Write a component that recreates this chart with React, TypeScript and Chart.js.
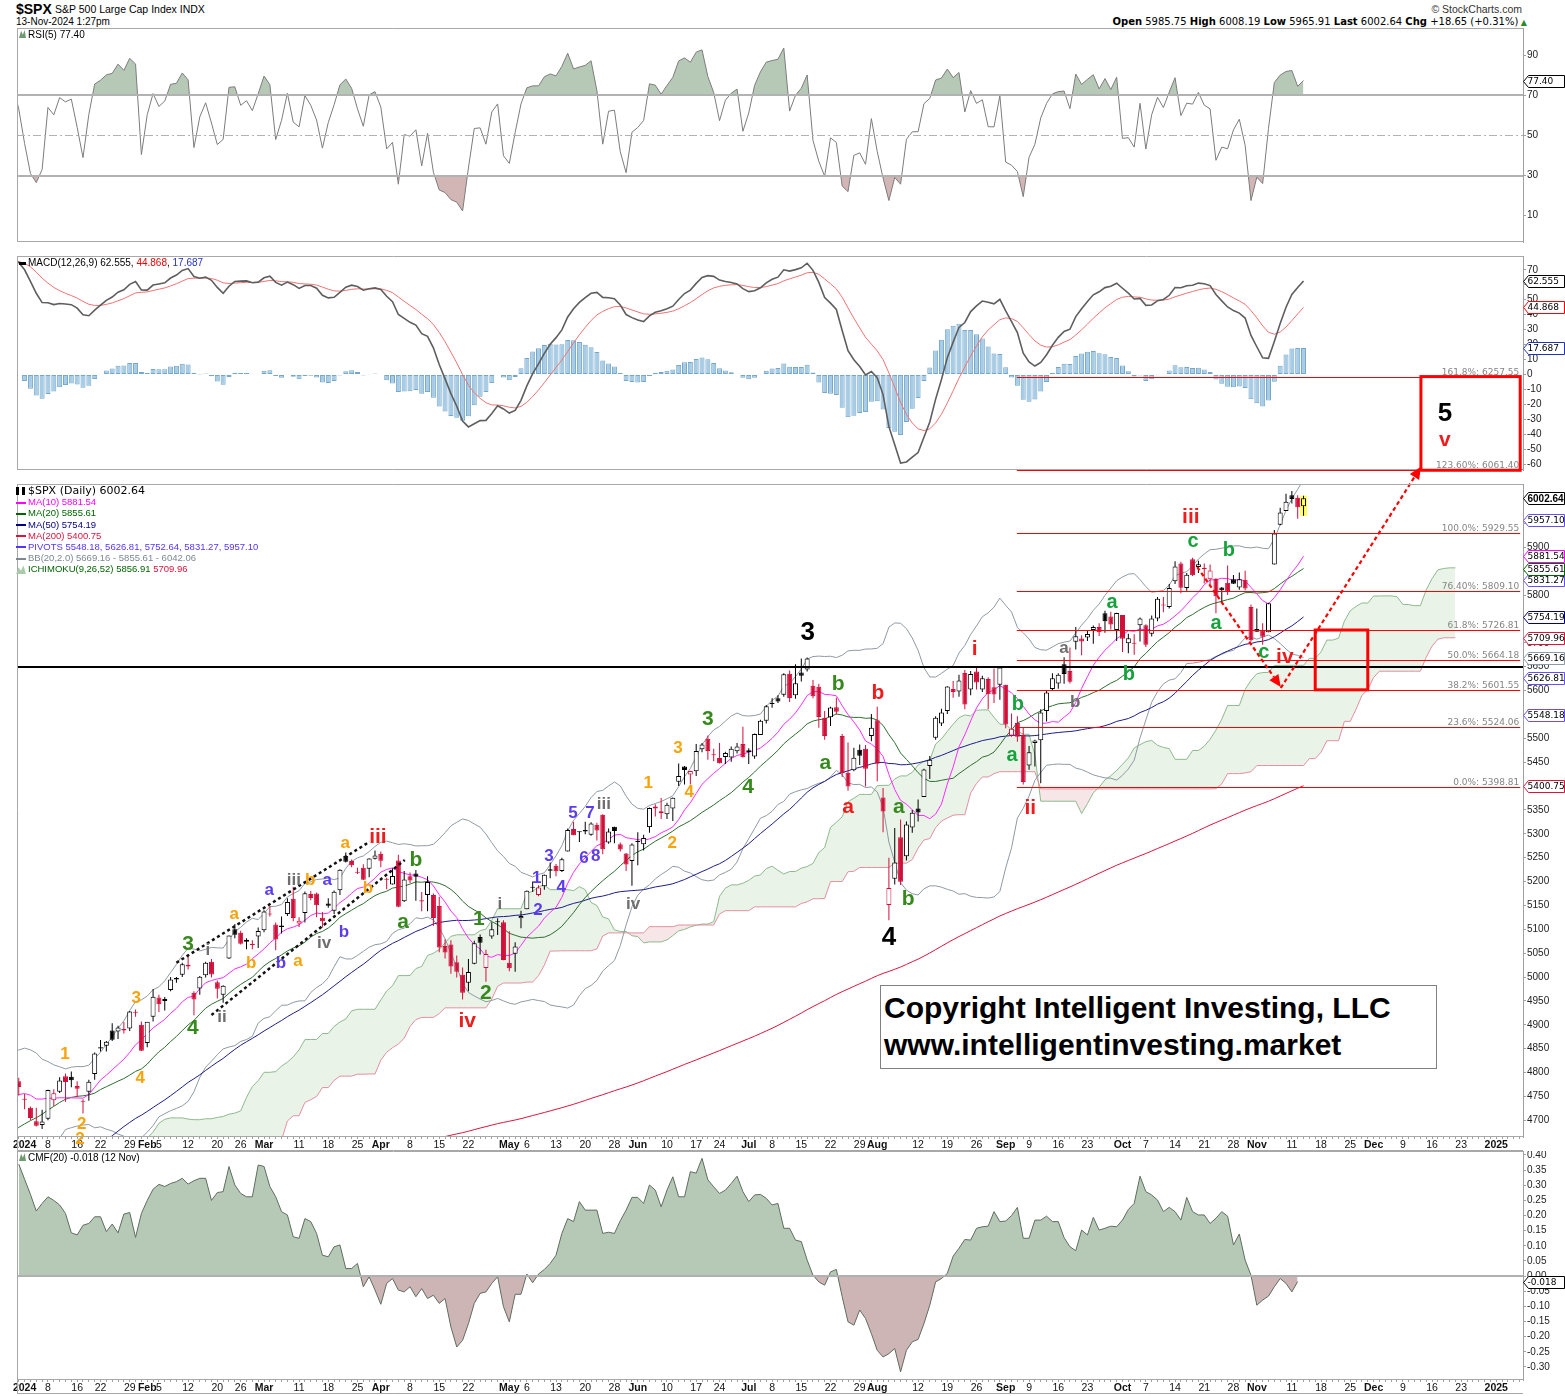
import React, { useEffect, useRef } from 'react';
import { Chart, registerables } from 'chart.js';

Chart.register(...registerables);

const FONT = '"Liberation Sans", Arial, Helvetica, sans-serif';
const FONT_V = '"DejaVu Sans", Verdana, sans-serif';
const RED = '#d0103a';

// ================= DATA =================
// closes before the visible window (Jun 26 2023 .. Dec 28 2023), used only to seed indicators
const PRE_CLOSE = [
  4328.82, 4378.41, 4376.86, 4396.44, 4450.38,
  4455.59, 4446.82, 4411.59, 4398.95, 4409.53, 4439.26, 4472.16, 4510.04, 4505.42, 4522.79, 4554.98, 4565.72, 4534.87, 4536.34, 4554.64, 4567.46, 4566.75, 4537.41, 4582.23, 4588.96,
  4576.73, 4513.39, 4501.89, 4478.03, 4518.44, 4499.38, 4467.71, 4468.83, 4464.05, 4489.72, 4437.86, 4404.33, 4370.36, 4369.71, 4399.77, 4387.55, 4436.01, 4376.31, 4405.71, 4433.31, 4497.63, 4514.87, 4507.66,
  4515.77, 4496.83, 4465.48, 4451.14, 4457.49, 4487.46, 4461.9, 4467.44, 4505.1, 4450.32, 4453.53, 4443.95, 4402.2, 4330.0, 4320.06, 4337.44, 4273.53, 4274.51, 4299.7, 4288.05,
  4288.39, 4229.45, 4263.75, 4258.19, 4308.5, 4335.66, 4358.24, 4376.95, 4349.61, 4327.78, 4373.63, 4373.2, 4314.6, 4278.0, 4224.16, 4217.04, 4247.68, 4186.77, 4137.23, 4117.37, 4166.82, 4193.8,
  4237.86, 4317.78, 4358.34, 4365.98, 4378.38, 4382.78, 4347.35, 4415.24, 4411.55, 4495.7, 4502.88, 4508.24, 4514.02, 4547.38, 4538.19, 4556.62, 4559.34, 4550.43, 4554.89, 4550.58, 4567.8,
  4594.63, 4569.78, 4567.18, 4549.34, 4585.59, 4604.37, 4622.44, 4643.7, 4707.09, 4719.55, 4719.19, 4740.56, 4768.37, 4698.35, 4746.75, 4754.63, 4774.75, 4781.58, 4783.35,
];
// highs / lows Oct 2 2023 .. Dec 28 2023 (Ichimoku seed)
const PRE_HIGH = [
  4300, 4281, 4268, 4268, 4324, 4336, 4385, 4378, 4385, 4366, 4383, 4393, 4364, 4340, 4276, 4255, 4255, 4232, 4184, 4156, 4177, 4195,
  4245, 4319, 4374, 4372, 4388, 4391, 4393, 4418, 4414, 4504, 4511, 4512, 4521, 4558, 4542, 4568, 4560, 4557, 4568, 4587, 4570,
  4598, 4575, 4579, 4590, 4590, 4609, 4623, 4643, 4709, 4738, 4725, 4748, 4768, 4778, 4749, 4772, 4784, 4785, 4793,
];
const PRE_LOW = [
  4260, 4216, 4220, 4225, 4219, 4283, 4339, 4345, 4325, 4311, 4336, 4337, 4306, 4268, 4223, 4189, 4217, 4181, 4128, 4103, 4132, 4154,
  4198, 4268, 4342, 4347, 4365, 4371, 4344, 4353, 4388, 4465, 4491, 4487, 4500, 4511, 4525, 4545, 4553, 4545, 4541, 4547, 4537,
  4560, 4545, 4556, 4546, 4565, 4574, 4593, 4608, 4633, 4694, 4704, 4726, 4743, 4697, 4717, 4736, 4758, 4768, 4781,
];

// daily OHLC, Dec 29 2023 .. Nov 13 2024
const OPEN = [
  4782,
  4745, 4726, 4698, 4690, 4703, 4742, 4760, 4792, 4791, 4772, 4739, 4760, 4797, 4853, 4856, 4888, 4886, 4888, 4892, 4925, 4900,
  4862, 4917, 4957, 4950, 4973, 4995, 5005, 5026, 4967, 4976, 5004, 5032, 4989, 4963, 5039, 5100, 5093, 5074, 5067, 5085,
  5098, 5131, 5110, 5108, 5132, 5164, 5112, 5134, 5174, 5175, 5124, 5154, 5139, 5182, 5254, 5243, 5220, 5229, 5227, 5248,
  5258, 5204, 5194, 5244, 5159, 5211, 5217, 5158, 5172, 5172, 5149, 5065, 5068, 5031, 5005, 4988, 5028, 5084, 5019, 5085, 5115, 5115,
  5030, 5049, 5123, 5142, 5187, 5172, 5190, 5226, 5233, 5222, 5263, 5310, 5304, 5305, 5298, 5319, 5340, 5282, 5315, 5278, 5259, 5243,
  5283, 5278, 5314, 5357, 5343, 5341, 5353, 5409, 5441, 5424, 5431, 5477, 5499, 5466, 5459, 5461, 5460, 5473, 5488,
  5471, 5462, 5507, 5537, 5572, 5584, 5591, 5635, 5590, 5638, 5644, 5610, 5608, 5543, 5544, 5565, 5505, 5428, 5433, 5476, 5478, 5505,
  5538, 5376, 5151, 5206, 5293, 5253, 5313, 5353, 5377, 5442, 5501, 5531, 5557, 5603, 5598, 5637, 5602, 5640, 5602, 5624, 5607, 5612,
  5612, 5506, 5532, 5507, 5443, 5490, 5496, 5557, 5603, 5615, 5655, 5641, 5702, 5709, 5711, 5727, 5733, 5762, 5755, 5727,
  5758, 5699, 5698, 5737, 5737, 5719, 5751, 5778, 5775, 5829, 5866, 5815, 5875, 5859, 5857, 5833, 5834, 5816, 5826, 5833, 5816, 5832, 5775,
  5723, 5725, 5722, 5864, 5947, 5976, 6009, 6004, 5985.75,
];
const HIGH = [
  4789,
  4755, 4729, 4726, 4722, 4764, 4765, 4790, 4798, 4802, 4782, 4744, 4785, 4842, 4868, 4866, 4903, 4898, 4906, 4929, 4932, 4907,
  4906, 4975, 4963, 4958, 5000, 5000, 5030, 5048, 4970, 5002, 5032, 5038, 4993, 4983, 5087, 5111, 5097, 5081, 5077, 5104,
  5140, 5149, 5114, 5127, 5165, 5189, 5125, 5179, 5180, 5177, 5136, 5165, 5181, 5226, 5261, 5246, 5229, 5236, 5249, 5265,
  5263, 5208, 5228, 5256, 5222, 5219, 5224, 5178, 5211, 5175, 5168, 5079, 5077, 5045, 5020, 5038, 5076, 5089, 5057, 5115, 5123, 5119,
  5096, 5073, 5139, 5181, 5200, 5192, 5215, 5240, 5237, 5250, 5311, 5325, 5305, 5325, 5324, 5323, 5341, 5311, 5315, 5282, 5260, 5280,
  5303, 5298, 5355, 5362, 5375, 5365, 5376, 5447, 5442, 5432, 5488, 5490, 5506, 5478, 5490, 5472, 5483, 5490, 5524,
  5479, 5510, 5539, 5570, 5584, 5590, 5636, 5642, 5655, 5667, 5669, 5622, 5614, 5557, 5566, 5585, 5509, 5491, 5480, 5487, 5486, 5551,
  5566, 5396, 5250, 5312, 5330, 5326, 5350, 5372, 5436, 5463, 5546, 5562, 5609, 5620, 5633, 5643, 5641, 5651, 5631, 5628, 5646, 5651,
  5612, 5552, 5546, 5522, 5484, 5497, 5561, 5600, 5636, 5636, 5670, 5690, 5733, 5716, 5725, 5736, 5741, 5767, 5765, 5763,
  5758, 5719, 5718, 5753, 5739, 5757, 5796, 5796, 5823, 5871, 5870, 5846, 5878, 5872, 5866, 5864, 5835, 5817, 5862, 5842, 5847, 5851, 5780,
  5772, 5741, 5784, 5936, 5983, 6012, 6018, 6009, 6008.19,
];
const LOW = [
  4752,
  4723, 4700, 4687, 4682, 4700, 4730, 4757, 4739, 4769, 4748, 4714, 4741, 4785, 4844, 4844, 4866, 4870, 4882, 4887, 4917, 4845,
  4853, 4907, 4927, 4930, 4970, 4988, 5000, 5016, 4920, 4963, 4999, 4999, 4955, 4946, 5038, 5081, 5068, 5058, 5058, 5061,
  5094, 5127, 5056, 5091, 5128, 5117, 5105, 5114, 5161, 5125, 5104, 5145, 5132, 5172, 5240, 5230, 5216, 5203, 5209, 5246,
  5230, 5184, 5194, 5146, 5157, 5197, 5160, 5138, 5138, 5107, 5052, 5039, 5007, 4999, 4953, 4970, 5027, 5047, 4990, 5080, 5088, 5035,
  5012, 5011, 5102, 5142, 5178, 5169, 5183, 5207, 5211, 5220, 5263, 5297, 5283, 5299, 5296, 5286, 5257, 5279, 5280, 5263, 5222, 5191,
  5234, 5265, 5302, 5336, 5331, 5331, 5327, 5400, 5403, 5403, 5421, 5471, 5455, 5452, 5447, 5446, 5451, 5468, 5460,
  5446, 5457, 5507, 5531, 5564, 5574, 5587, 5576, 5583, 5619, 5640, 5584, 5522, 5497, 5526, 5550, 5419, 5390, 5431, 5444, 5399, 5494,
  5410, 5303, 5119, 5194, 5193, 5244, 5302, 5326, 5377, 5415, 5497, 5526, 5551, 5585, 5587, 5561, 5590, 5602, 5597, 5561, 5574, 5581,
  5521, 5503, 5493, 5403, 5434, 5441, 5406, 5535, 5600, 5604, 5614, 5615, 5686, 5674, 5704, 5698, 5714, 5721, 5728, 5704,
  5681, 5678, 5675, 5703, 5691, 5713, 5745, 5764, 5772, 5823, 5804, 5809, 5840, 5846, 5824, 5822, 5762, 5784, 5800, 5823, 5811, 5810, 5703,
  5723, 5696, 5722, 5864, 5946, 5976, 5992, 5960, 5965.91,
];
const CLOSE = [
  4769.83,
  4742.83, 4704.81, 4688.68, 4697.24, 4763.54, 4756.5, 4783.45, 4780.24, 4783.83, 4765.98, 4739.21, 4780.94, 4839.81, 4850.43, 4864.6, 4868.55, 4894.16, 4890.97, 4927.93, 4924.97, 4845.65,
  4906.19, 4958.61, 4942.81, 4954.23, 4995.06, 4997.91, 5026.61, 5021.84, 4953.17, 5000.62, 5029.73, 5005.57, 4975.51, 4981.8, 5087.03, 5088.8, 5069.53, 5078.18, 5069.76, 5096.27,
  5137.08, 5130.95, 5078.65, 5104.76, 5157.36, 5123.69, 5117.94, 5175.27, 5165.31, 5150.48, 5117.09, 5149.42, 5178.51, 5224.62, 5241.53, 5234.18, 5218.19, 5203.58, 5248.49, 5254.35,
  5243.77, 5205.81, 5211.49, 5147.21, 5204.34, 5202.39, 5209.91, 5160.64, 5199.06, 5123.41, 5061.82, 5051.41, 5022.21, 5011.12, 4967.23, 5010.6, 5070.55, 5071.63, 5048.42, 5099.96, 5116.17, 5035.69,
  5018.39, 5064.2, 5127.79, 5180.74, 5187.7, 5187.67, 5214.08, 5222.68, 5221.42, 5246.68, 5308.15, 5297.1, 5303.27, 5308.13, 5321.41, 5307.01, 5267.84, 5304.72, 5306.04, 5266.95, 5235.48, 5277.51,
  5283.4, 5291.34, 5354.03, 5352.96, 5346.99, 5360.79, 5375.32, 5421.03, 5433.74, 5431.6, 5473.23, 5487.03, 5473.17, 5464.62, 5447.87, 5469.3, 5477.9, 5482.87, 5460.48,
  5475.09, 5509.01, 5537.02, 5567.19, 5572.85, 5576.98, 5633.91, 5584.54, 5615.35, 5631.22, 5667.2, 5588.27, 5544.59, 5505.0, 5564.41, 5555.74, 5427.13, 5399.22, 5459.1, 5463.54, 5436.44, 5522.3,
  5446.68, 5346.56, 5186.33, 5240.03, 5199.5, 5319.31, 5344.16, 5344.39, 5434.43, 5455.21, 5543.22, 5554.25, 5608.25, 5597.12, 5620.85, 5570.64, 5634.61, 5616.84, 5625.8, 5592.18, 5591.96, 5648.4,
  5528.93, 5520.07, 5503.41, 5408.42, 5471.05, 5495.52, 5554.13, 5595.76, 5626.02, 5633.09, 5634.58, 5618.26, 5713.64, 5702.55, 5718.57, 5732.93, 5722.26, 5745.37, 5738.17, 5762.48,
  5708.75, 5709.54, 5699.94, 5751.07, 5695.94, 5751.13, 5792.04, 5780.05, 5815.03, 5859.85, 5815.26, 5842.47, 5841.47, 5864.67, 5853.98, 5851.2, 5797.42, 5809.86, 5808.12, 5823.52, 5832.92, 5813.67, 5705.45,
  5728.8, 5712.69, 5782.76, 5929.04, 5973.1, 5995.54, 6001.35, 5983.99, 6002.64,
];

// Chaikin Money Flow (20), Dec 29 2023 .. Nov 12 2024
const CMF = [
  0.37, 0.32, 0.27, 0.215, 0.24, 0.262, 0.25, 0.235, 0.207, 0.143,
  0.136, 0.168, 0.174, 0.196, 0.196, 0.147, 0.172, 0.143, 0.205, 0.21,
  0.128, 0.207, 0.25, 0.287, 0.303, 0.296, 0.306, 0.312, 0.323, 0.304,
  0.315, 0.323, 0.323, 0.25, 0.276, 0.279, 0.362, 0.301, 0.273, 0.262,
  0.262, 0.367, 0.362, 0.296, 0.262, 0.213, 0.202, 0.13, 0.125, 0.19,
  0.18, 0.141, 0.069, 0.064, 0.097, 0.103, 0.025, 0.025, 0.042, -0.035,
  -0.002, -0.046, -0.093, -0.024, -0.008, -0.046, -0.052, -0.035, -0.068, -0.041,
  -0.074, -0.063, -0.09, -0.074, -0.168, -0.234, -0.212, -0.157, -0.09, -0.057,
  -0.052, -0.024, -0.002, -0.101, -0.151, -0.06, -0.06, 0.007, -0.022, 0.007,
  0.022, 0.042, 0.069, 0.141, 0.19, 0.18, 0.246, 0.218, 0.218, 0.218,
  0.141, 0.145, 0.141, 0.183, 0.218, 0.26, 0.26, 0.24, 0.301, 0.284,
  0.229, 0.284, 0.328, 0.262, 0.262, 0.345, 0.34, 0.389, 0.318, 0.295,
  0.273, 0.284, 0.306, 0.33, 0.279, 0.246, 0.268, 0.27, 0.257, 0.235,
  0.24, 0.158, 0.158, 0.119, 0.114, 0.053, 0.003, -0.019, -0.03, 0.014,
  0.022, -0.068, -0.151, -0.162, -0.112, -0.14, -0.19, -0.245, -0.267, -0.256,
  -0.239, -0.316, -0.245, -0.217, -0.209, -0.157, -0.096, -0.019, -0.008, 0.009,
  0.066, 0.092, 0.121, 0.119, 0.158, 0.163, 0.165, 0.213, 0.18, 0.182,
  0.2, 0.227, 0.125, 0.125, 0.185, 0.185, 0.198, 0.18, 0.18, 0.127,
  0.097, 0.084, 0.152, 0.136, 0.194, 0.152, 0.158, 0.165, 0.163, 0.185,
  0.22, 0.24, 0.33, 0.279, 0.268, 0.251, 0.213, 0.227, 0.213, 0.185,
  0.26, 0.213, 0.202, 0.202, 0.174, 0.191, 0.213, 0.198, 0.103, 0.139,
  0.053, 0.003, -0.096, -0.079, -0.066, -0.035, -0.008, -0.024, -0.052, -0.018,
];

const HOLIDAYS = ['2024-01-01', '2024-01-15', '2024-02-19', '2024-03-29', '2024-05-27', '2024-06-19', '2024-07-04', '2024-09-02', '2024-11-28', '2024-12-25', '2025-01-01'];
const X_TICKS: [string, string][] = [
  ['2024-01-02', '2024'], ['2024-01-08', '8'], ['2024-01-16', '16'], ['2024-01-22', '22'], ['2024-01-29', '29'],
  ['2024-02-01', 'Feb'], ['2024-02-05', '5'], ['2024-02-12', '12'], ['2024-02-20', '20'], ['2024-02-26', '26'],
  ['2024-03-01', 'Mar'], ['2024-03-11', '11'], ['2024-03-18', '18'], ['2024-03-25', '25'],
  ['2024-04-01', 'Apr'], ['2024-04-08', '8'], ['2024-04-15', '15'], ['2024-04-22', '22'],
  ['2024-05-01', 'May'], ['2024-05-06', '6'], ['2024-05-13', '13'], ['2024-05-20', '20'], ['2024-05-28', '28'],
  ['2024-06-03', 'Jun'], ['2024-06-10', '10'], ['2024-06-17', '17'], ['2024-06-24', '24'],
  ['2024-07-01', 'Jul'], ['2024-07-08', '8'], ['2024-07-15', '15'], ['2024-07-22', '22'], ['2024-07-29', '29'],
  ['2024-08-01', 'Aug'], ['2024-08-12', '12'], ['2024-08-19', '19'], ['2024-08-26', '26'],
  ['2024-09-03', 'Sep'], ['2024-09-09', '9'], ['2024-09-16', '16'], ['2024-09-23', '23'],
  ['2024-10-01', 'Oct'], ['2024-10-07', '7'], ['2024-10-14', '14'], ['2024-10-21', '21'], ['2024-10-28', '28'],
  ['2024-11-01', 'Nov'], ['2024-11-11', '11'], ['2024-11-18', '18'], ['2024-11-25', '25'],
  ['2024-12-02', 'Dec'], ['2024-12-09', '9'], ['2024-12-16', '16'], ['2024-12-23', '23'], ['2025-01-02', '2025'],
];
const PRICE_TICKS = [4700, 4750, 4800, 4850, 4900, 4950, 5000, 5050, 5100, 5150, 5200, 5250, 5300, 5350, 5400, 5450, 5500, 5550, 5600, 5650, 5700, 5750, 5800, 5850, 5900, 5950];
const RSI_TICKS = [10, 30, 50, 70, 90];
const MACD_TICKS = [-60, -50, -40, -30, -20, -10, 0, 10, 20, 30, 40, 50, 60, 70];
const CMF_TICKS = [-0.3, -0.25, -0.2, -0.15, -0.1, -0.05, 0, 0.05, 0.1, 0.15, 0.2, 0.25, 0.3, 0.35, 0.4];

// Fibonacci levels and their captions
const FIB_LEVELS = [6257.55, 6061.4, 5929.55, 5809.1, 5726.81, 5664.18, 5601.55, 5524.06, 5398.81];
const FIB_TEXT = ['161.8%: 6257.55', '123.60%: 6061.40', '100.0%: 5929.55', '76.40%: 5809.10', '61.8%: 5726.81', '50.0%: 5664.18', '38.2%: 5601.55', '23.6%: 5524.06', '0.0%: 5398.81'];
const KEY_LEVEL = 5650;

// value tags on the right axis
const PRICE_TAGS: [number, string, string, boolean][] = [
  [5400.75, '5400.75', '#dc143c', false], [5548.18, '5548.18', '#6a4cff', false], [5626.81, '5626.81', '#6a4cff', false],
  [5669.16, '5669.16', '#8a9aa8', false], [5709.96, '5709.96', '#dc143c', false], [5754.19, '5754.19', '#000080', false],
  [5831.27, '5831.27', '#6a4cff', false], [5855.61, '5855.61', '#006400', false], [5881.54, '5881.54', '#ff00ff', false],
  [5957.1, '5957.10', '#6a4cff', false], [6002.64, '6002.64', '#000000', true],
];
const RSI_TAGS: [number, string, string, boolean][] = [[77.4, '77.40', '#000000', false]];
const MACD_TAGS: [number, string, string, boolean][] = [[62.555, '62.555', '#000000', false], [44.868, '44.868', '#ff0000', false], [17.687, '17.687', '#2233bb', false]];
const CMF_TAGS: [number, string, string, boolean][] = [[-0.018, '-0.018', '#000000', false]];

// Elliott-wave annotations: text, trading-day index, price, style
const WAVE_LABELS: [string, number, number, string][] = [
  ['3', 134.1, 5720.5, 'K'], ['4', 148.0, 5081.8, 'K'], ['5', 243.2, 6179.2, 'K'], ['v', 243.2, 6124.7, 'R'],
  ['iii', 60.5, 5293.3, 'R'], ['iv', 75.8, 4908, 'R'], ['b', 146.1, 5594.9, 'R'], ['a', 141.0, 5356.1, 'R'],
  ['i', 162.7, 5687, 'R'], ['ii', 172.2, 5354, 'R'], ['iii', 199.7, 5963.5, 'R'], ['iv', 215.8, 5670.3, 'R'],
  ['3', 28.0, 5069.2, 'G'], ['4', 28.8, 4893.3, 'G'], ['a', 64.8, 5115.3, 'G'], ['b', 67.0, 5245.1, 'G'],
  ['1', 77.8, 5121.6, 'G'], ['2', 79.0, 4966.6, 'G'], ['3', 117.0, 5540.4, 'G'], ['4', 123.9, 5398, 'G'],
  ['b', 139.3, 5613.7, 'G'], ['a', 137.1, 5448.3, 'G'], ['a', 149.7, 5356.1, 'G'], ['b', 151.3, 5163.5, 'G'],
  ['a', 169.1, 5465, 'g'], ['b', 170.1, 5571.8, 'g'], ['b', 189.1, 5634.7, 'g'], ['a', 186.2, 5785.4, 'g'],
  ['c', 200.1, 5913.2, 'g'], ['b', 206.2, 5894.3, 'g'], ['a', 204.0, 5741.5, 'g'], ['c', 212.2, 5680.7, 'g'],
  ['iii', 46.1, 5203.2, 'Y'], ['i', 31.4, 5056.7, 'Y'], ['iv', 51.3, 5071.4, 'Y'], ['ii', 33.8, 4916.3, 'Y'],
  ['i', 81.4, 5153, 'Y'], ['iii', 99.2, 5362.4, 'Y'], ['iv', 104.2, 5153, 'Y'], ['a', 178.0, 5689.1, 'Y'], ['b', 179.9, 5576, 'Y'],
  ['1', 6.9, 4838.9, 'O'], ['2', 9.8, 4692.3, 'O'], ['2', 9.5, 4660.8, 'O'], ['4', 19.8, 4788.6, 'O'], ['3', 19.1, 4956.1, 'O'],
  ['a', 35.9, 5132.1, 'O'], ['b', 38.8, 5029.5, 'O'], ['a', 46.8, 5033.7, 'O'], ['b', 48.9, 5203.2, 'O'],
  ['a', 54.9, 5280.7, 'O'], ['b', 58.8, 5186.5, 'O'], ['1', 106.8, 5406.4, 'O'], ['2', 110.9, 5280.7, 'O'],
  ['3', 111.9, 5479.7, 'O'], ['4', 113.8, 5387.5, 'O'],
  ['a', 41.9, 5182.3, 'P'], ['a', 51.8, 5203.2, 'P'], ['b', 43.9, 5029.5, 'P'], ['b', 54.7, 5094.3, 'P'],
  ['1', 87.7, 5207.4, 'P'], ['2', 87.9, 5140.4, 'P'], ['3', 89.8, 5253.5, 'P'], ['4', 91.9, 5188.6, 'P'],
  ['5', 93.9, 5343.6, 'P'], ['6', 95.8, 5249.3, 'P'], ['7', 96.8, 5343.6, 'P'], ['8', 97.8, 5253.5, 'P'],
];
const CHANNELS: [number, number, number, number][] = [[26.0, 5030, 59.1, 5283.5], [32.0, 4920.5, 65.1, 5245]];
const ARROWS: [number, number, number, number][] = [[200.8, 5858.7, 215.1, 5607.4], [215.1, 5605.3, 239.1, 6068.5]];
const BOXES: [number, number, number, number][] = [[221.0, 5726.81, 230.0, 5601.55], [239.1, 6257.55, 256.1, 6061.4]];
const FIB_SPAN: [number, number] = [169.9, 256.1];

const LABEL_STYLE: Record<string, { color: string; size: number }> = {
  K: { color: '#000000', size: 26 },
  R: { color: '#ee1c1c', size: 21 },
  G: { color: '#37891e', size: 21 },
  g: { color: '#16a33c', size: 20 },
  O: { color: '#f7a30a', size: 17 },
  P: { color: '#5b3cf0', size: 17 },
  Y: { color: '#6e6e6e', size: 17 },
};

// ================= DERIVED =================
const X_MIN = -1.301;
const X_MAX = 256.58;

function buildCalendar(): string[] {
  const out: string[] = [];
  let t = Date.UTC(2023, 11, 29);
  const end = Date.UTC(2025, 0, 20);
  while (t <= end) {
    const d = new Date(t);
    const wd = d.getUTCDay();
    const s = d.toISOString().slice(0, 10);
    if (wd !== 0 && wd !== 6 && HOLIDAYS.indexOf(s) < 0) out.push(s);
    t += 86400000;
  }
  return out;
}
const CAL = buildCalendar();
const dateX = (s: string) => CAL.indexOf(s) - 1;
const DAY_TICKS = CAL.map((_, i) => i - 1).filter((v) => v <= X_MAX);
const LABEL_AT = new Map<number, string>(X_TICKS.map(([d, l]) => [dateX(d), l]));
const isBoldLabel = (v: number) => {
  const l = LABEL_AT.get(v);
  return !!l && !/^\d{1,2}$/.test(l);
};

const ALL_CLOSE = PRE_CLOSE.concat(CLOSE);
const OFF_C = PRE_CLOSE.length + 1;
const ALL_HIGH = PRE_HIGH.concat(HIGH);
const ALL_LOW = PRE_LOW.concat(LOW);
const OFF_H = PRE_HIGH.length + 1;

function sma(a: number[], n: number) {
  const out: (number | null)[] = a.map(() => null);
  let s = 0;
  for (let i = 0; i < a.length; i++) {
    s += a[i];
    if (i >= n) s -= a[i - n];
    if (i >= n - 1) out[i] = s / n;
  }
  return out;
}
function sdev(a: number[], n: number, m: (number | null)[]) {
  return a.map((_, i) => {
    const mu = m[i];
    if (mu == null) return null;
    let s = 0;
    for (let k = i - n + 1; k <= i; k++) s += (a[k] - mu) * (a[k] - mu);
    return Math.sqrt(s / n);
  });
}
function ema(a: (number | null)[], n: number) {
  const out: (number | null)[] = a.map(() => null);
  const k = 2 / (n + 1);
  let prev: number | null = null;
  const buf: number[] = [];
  for (let i = 0; i < a.length; i++) {
    const v = a[i];
    if (v == null) continue;
    if (prev == null) {
      buf.push(v);
      if (buf.length === n) {
        prev = buf.reduce((p, c) => p + c, 0) / n;
        out[i] = prev;
      }
    } else {
      prev = v * k + prev * (1 - k);
      out[i] = prev;
    }
  }
  return out;
}
function rsi(a: number[], n: number) {
  const out: (number | null)[] = a.map(() => null);
  let ag = 0, al = 0;
  for (let i = 1; i < a.length; i++) {
    const ch = a[i] - a[i - 1];
    const g = Math.max(ch, 0), l = Math.max(-ch, 0);
    if (i <= n) {
      ag += g; al += l;
      if (i === n) { ag /= n; al /= n; out[i] = al === 0 ? 100 : 100 - 100 / (1 + ag / al); }
    } else {
      ag = (ag * (n - 1) + g) / n;
      al = (al * (n - 1) + l) / n;
      out[i] = al === 0 ? 100 : 100 - 100 / (1 + ag / al);
    }
  }
  return out;
}
const toPts = (arr: (number | null)[], off: number, shift = 0) =>
  arr.map((v, j) => ({ x: j - off + shift, y: v })).filter((p) => p.y != null && p.x >= -2) as { x: number; y: number }[];

const MA10 = toPts(sma(ALL_CLOSE, 10), OFF_C);
const M20 = sma(ALL_CLOSE, 20);
const MA20 = toPts(M20, OFF_C);
const MA50 = toPts(sma(ALL_CLOSE, 50), OFF_C);
const MA200 = toPts(sma(ALL_CLOSE, 200), OFF_C);
const SD20 = sdev(ALL_CLOSE, 20, M20);
const BB_UP = toPts(M20.map((m, i) => (m == null ? null : m + 2 * (SD20[i] as number))), OFF_C);
const BB_LO = toPts(M20.map((m, i) => (m == null ? null : m - 2 * (SD20[i] as number))), OFF_C);

function midHL(n: number, h: number) {
  let hh = -Infinity, ll = Infinity;
  for (let k = Math.max(0, h - n + 1); k <= h; k++) {
    if (ALL_HIGH[k] > hh) hh = ALL_HIGH[k];
    if (ALL_LOW[k] < ll) ll = ALL_LOW[k];
  }
  return (hh + ll) / 2;
}
const SPAN_A_RAW = ALL_HIGH.map((_, h) => (midHL(9, h) + midHL(26, h)) / 2);
const SPAN_B_RAW = ALL_HIGH.map((_, h) => midHL(52, h));
const SPAN_A = toPts(SPAN_A_RAW, OFF_H, 26);
const SPAN_B = toPts(SPAN_B_RAW, OFF_H, 26);

const RSI5 = toPts(rsi(ALL_CLOSE, 5), OFF_C);
const E12 = ema(ALL_CLOSE, 12);
const E26 = ema(ALL_CLOSE, 26);
const MACD_RAW = E12.map((v, i) => (v == null || E26[i] == null ? null : v - (E26[i] as number)));
const SIG_RAW = ema(MACD_RAW, 9);
const HIST_RAW = MACD_RAW.map((v, i) => (v == null || SIG_RAW[i] == null ? null : v - (SIG_RAW[i] as number)));
const MACD_L = toPts(MACD_RAW, OFF_C);
const SIG_L = toPts(SIG_RAW, OFF_C);
const HIST = toPts(HIST_RAW, OFF_C).filter((p) => p.x >= -1);
const CMF_PTS = CMF.map((v, k) => ({ x: k - 1, y: v }));

// ================= PLUGINS =================
const framePlugin = {
  id: 'frame',
  afterDraw(chart: any) {
    const { ctx, chartArea: a } = chart;
    ctx.save();
    ctx.strokeStyle = '#a8a8a8';
    ctx.lineWidth = 1;
    ctx.beginPath();
    ctx.moveTo(a.left + 0.5, a.top);
    ctx.lineTo(a.left + 0.5, a.bottom);
    ctx.moveTo(a.left, a.top + 0.5);
    ctx.lineTo(a.right, a.top + 0.5);
    ctx.moveTo(a.left, Math.round(a.bottom) - 0.5);
    ctx.lineTo(a.right, Math.round(a.bottom) - 0.5);
    if (chart.options.scales.x.display) {
      const yb = Math.round(a.bottom) + 13.5;
      ctx.moveTo(a.left, yb);
      ctx.lineTo(a.right, yb);
      ctx.moveTo(a.left + 0.5, a.bottom);
      ctx.lineTo(a.left + 0.5, yb);
    }
    ctx.stroke();
    ctx.restore();
  },
};

function tagPlugin(tags: [number, string, string, boolean][]) {
  return {
    id: 'tags',
    afterDraw(chart: any) {
      const { ctx, chartArea: a, scales } = chart;
      const y = scales.y;
      ctx.save();
      tags.forEach(([v, label, color, bold]) => {
        const yy = Math.round(y.getPixelForValue(v)) + 0.5;
        const x0 = a.right + 0.5;
        ctx.beginPath();
        ctx.moveTo(x0, yy);
        ctx.lineTo(x0 + 5, yy - 6);
        ctx.lineTo(x0 + 41, yy - 6);
        ctx.lineTo(x0 + 41, yy + 6);
        ctx.lineTo(x0 + 5, yy + 6);
        ctx.closePath();
        ctx.fillStyle = '#ffffff';
        ctx.fill();
        ctx.strokeStyle = color;
        ctx.lineWidth = 1;
        ctx.stroke();
        ctx.fillStyle = '#000000';
        ctx.font = bold ? `bold 10px ${FONT}` : `9px ${FONT_V}`;
        ctx.textAlign = 'left';
        ctx.textBaseline = 'middle';
        ctx.fillText(label, x0 + 4, yy + 0.5);
      });
      ctx.restore();
    },
  };
}

function drawArrow(ctx: any, x1: number, y1: number, x2: number, y2: number) {
  const ang = Math.atan2(y2 - y1, x2 - x1);
  const head = 12;
  const bx = x2 - head * Math.cos(ang);
  const by = y2 - head * Math.sin(ang);
  ctx.setLineDash([4, 3]);
  ctx.lineWidth = 2.2;
  ctx.beginPath();
  ctx.moveTo(x1, y1);
  ctx.lineTo(bx, by);
  ctx.stroke();
  ctx.setLineDash([]);
  ctx.beginPath();
  ctx.moveTo(x2, y2);
  ctx.lineTo(bx + 5.5 * Math.sin(ang), by - 5.5 * Math.cos(ang));
  ctx.lineTo(bx - 5.5 * Math.sin(ang), by + 5.5 * Math.cos(ang));
  ctx.closePath();
  ctx.fill();
}

const annotPlugin = {
  id: 'annot',
  beforeDatasetsDraw(chart: any) {
    const { ctx, scales } = chart;
    const k = CLOSE.length - 1;
    const px = scales.x.getPixelForValue(k - 1);
    const y1 = scales.y.getPixelForValue(HIGH[k]);
    const y2 = scales.y.getPixelForValue(LOW[k]);
    ctx.save();
    ctx.fillStyle = '#ffff66';
    ctx.fillRect(px - 3.5, y1, 7, y2 - y1);
    ctx.restore();
  },
  afterDatasetsDraw(chart: any) {
    const { ctx, chartArea: a, scales } = chart;
    const X = (v: number) => scales.x.getPixelForValue(v);
    const Y = (v: number) => scales.y.getPixelForValue(v);
    ctx.save();
    // key horizontal level
    ctx.strokeStyle = '#000000';
    ctx.lineWidth = 2;
    ctx.beginPath();
    ctx.moveTo(a.left, Math.round(Y(KEY_LEVEL)));
    ctx.lineTo(a.right, Math.round(Y(KEY_LEVEL)));
    ctx.stroke();
    // fib lines
    FIB_LEVELS.forEach((lv, i) => {
      const yy = Math.round(Y(lv)) + 0.5;
      ctx.strokeStyle = '#ff0000';
      ctx.lineWidth = 1;
      ctx.beginPath();
      ctx.moveTo(X(FIB_SPAN[0]), yy);
      ctx.lineTo(X(FIB_SPAN[1]), yy);
      ctx.stroke();
      ctx.fillStyle = '#858585';
      ctx.font = `9px ${FONT_V}`;
      ctx.textAlign = 'right';
      ctx.textBaseline = 'alphabetic';
      ctx.fillText(FIB_TEXT[i], X(FIB_SPAN[1]) - 1, yy - 3);
    });
    // target boxes
    ctx.strokeStyle = '#ff0000';
    ctx.lineWidth = 3;
    BOXES.forEach(([x1, p1, x2, p2]) => {
      ctx.strokeRect(X(x1), Y(p1), X(x2) - X(x1), Y(p2) - Y(p1));
    });
    // channel lines
    ctx.strokeStyle = '#111111';
    ctx.lineWidth = 2.5;
    ctx.setLineDash([3, 3]);
    CHANNELS.forEach(([x1, p1, x2, p2]) => {
      ctx.beginPath();
      ctx.moveTo(X(x1), Y(p1));
      ctx.lineTo(X(x2), Y(p2));
      ctx.stroke();
    });
    ctx.setLineDash([]);
    // arrows
    ctx.strokeStyle = '#ff0000';
    ctx.fillStyle = '#ff0000';
    ARROWS.forEach(([x1, p1, x2, p2]) => drawArrow(ctx, X(x1), Y(p1), X(x2), Y(p2)));
    // labels
    ctx.textAlign = 'center';
    ctx.textBaseline = 'middle';
    WAVE_LABELS.forEach(([t, xi, p, s]) => {
      const st = LABEL_STYLE[s];
      ctx.font = `bold ${st.size}px ${FONT}`;
      ctx.fillStyle = st.color;
      ctx.fillText(t, X(xi), Y(p));
    });
    ctx.restore();
  },
};

const rsiLevels = {
  id: 'rsiLevels',
  afterDatasetsDraw(chart: any) {
    const { ctx, chartArea: a, scales } = chart;
    ctx.save();
    ctx.strokeStyle = '#b2b2b2';
    [70, 30].forEach((v) => {
      const yy = Math.round(scales.y.getPixelForValue(v));
      ctx.lineWidth = 2;
      ctx.beginPath();
      ctx.moveTo(a.left, yy);
      ctx.lineTo(a.right, yy);
      ctx.stroke();
    });
    ctx.lineWidth = 1;
    ctx.setLineDash([8, 3, 2, 3]);
    const y50 = Math.round(scales.y.getPixelForValue(50)) + 0.5;
    ctx.beginPath();
    ctx.moveTo(a.left, y50);
    ctx.lineTo(a.right, y50);
    ctx.stroke();
    ctx.restore();
  },
};

const zeroLine = {
  id: 'zeroLine',
  afterDatasetsDraw(chart: any) {
    const { ctx, chartArea: a, scales } = chart;
    const yy = Math.round(scales.y.getPixelForValue(0));
    ctx.save();
    ctx.strokeStyle = '#b0b0b0';
    ctx.lineWidth = 2;
    ctx.beginPath();
    ctx.moveTo(a.left, yy);
    ctx.lineTo(a.right, yy);
    ctx.stroke();
    ctx.restore();
  },
};

// ================= SCALES =================
function xScale(show: boolean) {
  return {
    type: 'linear',
    min: X_MIN,
    max: X_MAX,
    offset: false,
    display: show,
    afterBuildTicks: (s: any) => {
      s.ticks = DAY_TICKS.map((v) => ({ value: v }));
    },
    afterFit: (s: any) => {
      s.height = 14;
      s.paddingLeft = 0;
      s.paddingRight = 0;
    },
    grid: { drawOnChartArea: false, drawTicks: true, tickLength: 2, color: '#a0a0a0', offset: false },
    border: { display: false },
    ticks: {
      autoSkip: false,
      maxRotation: 0,
      minRotation: 0,
      padding: 0,
      color: '#111111',
      font: (c: any) => ({ family: FONT, size: 10.5, weight: c.tick && isBoldLabel(c.tick.value) ? 'bold' : 'normal' }),
      callback: (v: any) => LABEL_AT.get(Math.round(v)) ?? '',
    },
  };
}
function yScale(min: number, max: number, ticks: number[], fmt: (v: number) => string) {
  return {
    type: 'linear',
    position: 'right',
    min,
    max,
    beginAtZero: false,
    afterBuildTicks: (s: any) => {
      s.ticks = ticks.map((v) => ({ value: v }));
    },
    afterFit: (s: any) => {
      s.width = 42;
      s.paddingTop = 0;
      s.paddingBottom = 0;
    },
    grid: { drawOnChartArea: false, drawTicks: true, tickLength: 3, color: '#a0a0a0' },
    border: { display: true, color: '#a0a0a0' },
    ticks: { color: '#222222', padding: 1, font: { family: FONT, size: 10 }, callback: (v: any) => fmt(Number(v)) },
  };
}
const baseOptions = (padTop: number, padBottom: number, x: any, y: any) => ({
  responsive: false,
  maintainAspectRatio: false,
  animation: false,
  devicePixelRatio: 1,
  events: [],
  layout: { padding: { left: 17, right: 0, top: padTop, bottom: padBottom } },
  plugins: { legend: { display: false }, tooltip: { enabled: false }, filler: { propagate: false } },
  scales: { x, y },
});

// ================= COMPONENT =================
const LEGEND_LINES = [
  { text: '$SPX (Daily) 6002.64', color: '#000000', icon: 'candle' },
  { text: 'MA(10) 5881.54', color: '#ff00ff', icon: 'dash' },
  { text: 'MA(20) 5855.61', color: '#006400', icon: 'dash' },
  { text: 'MA(50) 5754.19', color: '#000080', icon: 'dash' },
  { text: 'MA(200) 5400.75', color: '#dc143c', icon: 'dash' },
  { text: 'PIVOTS 5548.18, 5626.81, 5752.64, 5831.27, 5957.10', color: '#5533ff', icon: 'dash' },
  { text: 'BB(20,2.0) 5669.16 - 5855.61 - 6042.06', color: '#7d8790', icon: 'dash' },
  { text: 'ICHIMOKU(9,26,52) 5856.91', color: '#006400', icon: 'cloud', extra: ' 5709.96' },
];

export default function App() {
  const rsiRef = useRef<HTMLCanvasElement>(null);
  const macdRef = useRef<HTMLCanvasElement>(null);
  const priceRef = useRef<HTMLCanvasElement>(null);
  const cmfRef = useRef<HTMLCanvasElement>(null);

  useEffect(() => {
    const charts: Chart[] = [];
    // RSI
    charts.push(
      new Chart(rsiRef.current as any, {
        type: 'line',
        data: {
          datasets: [
            { data: RSI5, borderColor: '#7c7c7c', borderWidth: 1, pointRadius: 0, tension: 0, order: 1, fill: { target: { value: 70 }, above: '#b6c9b6', below: 'rgba(0,0,0,0)' } },
            { data: RSI5, borderColor: 'rgba(0,0,0,0)', borderWidth: 0, pointRadius: 0, tension: 0, order: 2, fill: { target: { value: 30 }, above: 'rgba(0,0,0,0)', below: '#d2b6b6' } },
          ],
        } as any,
        options: baseOptions(0, 0, xScale(false), yScale(-3.1, 103.57, RSI_TICKS, (v) => String(v))) as any,
        plugins: [rsiLevels, framePlugin, tagPlugin(RSI_TAGS)],
      })
    );
    // MACD
    charts.push(
      new Chart(macdRef.current as any, {
        type: 'line',
        data: {
          datasets: [
            { type: 'bar', data: HIST, grouped: false, barThickness: 5, backgroundColor: '#a7cde6', borderColor: '#76a6c9', borderWidth: 1, borderSkipped: false, inflateAmount: 0, order: 3 },
            { type: 'line', data: SIG_L, borderColor: '#f27272', borderWidth: 1, pointRadius: 0, tension: 0, order: 2 },
            { type: 'line', data: MACD_L, borderColor: '#5e5e5e', borderWidth: 1.6, pointRadius: 0, tension: 0, order: 1 },
          ],
        } as any,
        options: baseOptions(0, 0, xScale(false), yScale(-63.96, 79.23, MACD_TICKS, (v) => String(v))) as any,
        plugins: [framePlugin, tagPlugin(MACD_TAGS)],
      })
    );
    // PRICE
    const last = CLOSE.length - 1;
    const prevC = (k: number) => (k === 0 ? PRE_CLOSE[PRE_CLOSE.length - 1] : CLOSE[k - 1]);
    const lineColor = (k: number) => (CLOSE[k] >= prevC(k) ? '#000000' : RED);
    const bodyFill = (k: number) => (k === last ? '#ffff66' : CLOSE[k] >= OPEN[k] ? '#ffffff' : lineColor(k));
    const wick = CLOSE.map((c, k) => ({ x: k - 1, y: [LOW[k], HIGH[k]] }));
    const body = CLOSE.map((c, k) => ({ x: k - 1, y: [Math.min(OPEN[k], c), Math.max(OPEN[k], c)] }));
    const ln = (data: any, color: string, order: number) => ({ type: 'line', data, borderColor: color, borderWidth: 1, pointRadius: 0, tension: 0, fill: false, order });
    charts.push(
      new Chart(priceRef.current as any, {
        type: 'line',
        data: {
          datasets: [
            { type: 'line', data: SPAN_A, borderColor: '#8dba8d', borderWidth: 1, pointRadius: 0, tension: 0, order: 10, fill: { target: '+1', above: '#e9f3e7', below: '#f6e6e8' } },
            { type: 'line', data: SPAN_B, borderColor: '#e2909e', borderWidth: 1, pointRadius: 0, tension: 0, order: 9, fill: false },
            ln(BB_UP, '#8e9aa4', 8),
            ln(BB_LO, '#8e9aa4', 8),
            ln(MA200, '#dc143c', 7),
            ln(MA50, '#1c1c8c', 6),
            ln(MA20, '#2f6e2f', 5),
            ln(MA10, '#ff2bff', 4),
            { type: 'bar', data: wick, grouped: false, barThickness: 1, backgroundColor: wick.map((_, k) => lineColor(k)), borderWidth: 0, inflateAmount: 0, order: 2 },
            { type: 'bar', data: body, grouped: false, barThickness: 5, minBarLength: 1, backgroundColor: body.map((_, k) => bodyFill(k)), borderColor: body.map((_, k) => lineColor(k)), borderWidth: 1, borderSkipped: false, inflateAmount: 0, order: 1 },
          ],
        } as any,
        options: baseOptions(124, 0, xScale(true), yScale(4665, 6032.6, PRICE_TICKS, (v) => String(v))) as any,
        plugins: [annotPlugin, framePlugin, tagPlugin(PRICE_TAGS)],
      })
    );
    // CMF
    charts.push(
      new Chart(cmfRef.current as any, {
        type: 'line',
        data: {
          datasets: [
            { data: CMF_PTS, borderColor: '#5d6d5d', borderWidth: 1, pointRadius: 0, tension: 0, fill: { target: { value: 0 }, above: '#b6c9b7', below: '#cdb5b6' } },
          ],
        } as any,
        options: baseOptions(0, 2, xScale(true), yScale(-0.343, 0.4132, CMF_TICKS, (v) => v.toFixed(2))) as any,
        plugins: [zeroLine, framePlugin, tagPlugin(CMF_TAGS)],
      })
    );
    return () => charts.forEach((c) => c.destroy());
  }, []);

  const abs = (left: number, top: number, extra: any = {}) => ({ position: 'absolute' as const, left, top, whiteSpace: 'nowrap' as const, ...extra });

  return (
    <div style={{ position: 'absolute', left: 0, top: 0, width: 1565, height: 1396, background: '#ffffff', overflow: 'hidden', fontFamily: FONT, color: '#000' }}>
      {/* header */}
      <div style={abs(16, 1, { fontSize: 14, fontWeight: 'bold' })}>$SPX</div>
      <div style={abs(55, 3, { fontSize: 10.5 })}>S&amp;P 500 Large Cap Index INDX</div>
      <div style={abs(16, 16, { fontSize: 10 })}>13-Nov-2024 1:27pm</div>
      <div style={abs(0, 3, { fontSize: 10.5, width: 1522, textAlign: 'right', color: '#333' })}>© StockCharts.com</div>
      <div style={abs(0, 16, { fontSize: 10, fontFamily: FONT_V, width: 1527, textAlign: 'right' })}>
        <b>Open</b> 5985.75 <b>High</b> 6008.19 <b>Low</b> 5965.91 <b>Last</b> 6002.64 <b>Chg</b> +18.65 (+0.31%)
        <span style={{ color: '#2a8a2a', fontSize: 8 }}> ▲</span>
      </div>

      <canvas ref={rsiRef} width={1565} height={228} style={{ position: 'absolute', left: 0, top: 28 }} />
      <canvas ref={macdRef} width={1565} height={228} style={{ position: 'absolute', left: 0, top: 256 }} />
      <canvas ref={priceRef} width={1565} height={791} style={{ position: 'absolute', left: 0, top: 360 }} />
      <canvas ref={cmfRef} width={1565} height={245} style={{ position: 'absolute', left: 0, top: 1151 }} />

      {/* panel legends */}
      <div style={abs(19, 29, { fontSize: 10 })}>
        <span style={{ display: 'inline-block', width: 7, height: 8, background: '#6f9a6f', clipPath: 'polygon(0 100%, 30% 10%, 55% 60%, 80% 0, 100% 100%)', marginRight: 2 }} />
        RSI(5) 77.40
      </div>
      <div style={abs(19, 257, { fontSize: 10 })}>
        <span style={{ display: 'inline-block', width: 7, height: 3, background: '#000', verticalAlign: 'middle', marginRight: 2 }} />
        MACD(12,26,9) 62.555, <span style={{ color: '#ee0000' }}>44.868</span>, <span style={{ color: '#2233cc' }}>17.687</span>
      </div>
      <div style={abs(19, 1152, { fontSize: 10 })}>
        <span style={{ display: 'inline-block', width: 7, height: 8, background: '#6f9a6f', clipPath: 'polygon(0 100%, 30% 10%, 55% 60%, 80% 0, 100% 100%)', marginRight: 2 }} />
        CMF(20) -0.018 (12 Nov)
      </div>
      {LEGEND_LINES.map((l, i) => (
        <div
          key={i}
          style={abs(16, 485 + i * 11.2, {
            fontSize: i === 0 ? 11 : 9.5,
            fontFamily: i === 0 ? FONT_V : FONT,
            lineHeight: '11px',
            color: l.color,
          })}
        >
          {l.icon === 'candle' && (
            <span style={{ display: 'inline-block', width: 9, height: 8, marginRight: 3, verticalAlign: 'middle', borderLeft: '3px solid #000', borderRight: '3px solid #000', boxSizing: 'border-box' }} />
          )}
          {l.icon === 'dash' && <span style={{ display: 'inline-block', width: 10, height: 2, marginRight: 2, verticalAlign: 'middle', background: l.color }} />}
          {l.icon === 'cloud' && (
            <span style={{ display: 'inline-block', width: 10, height: 9, marginRight: 2, verticalAlign: 'middle', background: '#a9cba9', clipPath: 'polygon(0 100%, 25% 20%, 50% 60%, 75% 0, 100% 100%)' }} />
          )}
          {l.text}
          {l.extra && <span style={{ color: '#dc143c' }}>{l.extra}</span>}
        </div>
      ))}

      {/* copyright box */}
      <div style={abs(880, 985, { width: 552, height: 79, border: '1px solid #808080', background: '#ffffff', fontWeight: 'bold', fontSize: 30, lineHeight: '37px', paddingLeft: 3, paddingTop: 3, boxSizing: 'content-box' })}>
        <div>Copyright Intelligent Investing, LLC</div>
        <div>www.intelligentinvesting.market</div>
      </div>
    </div>
  );
}
